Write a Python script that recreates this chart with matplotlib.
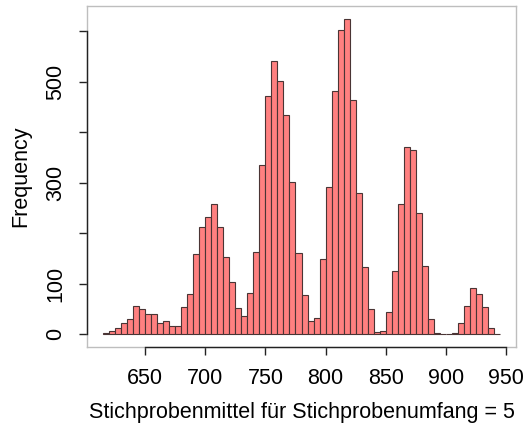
import matplotlib
matplotlib.use("Agg")
import matplotlib.pyplot as plt

plt.rcParams['font.family'] = ['Liberation Sans', 'DejaVu Sans']

# Histogram of sample means (bin width 5)
bin_starts = [615, 620, 625, 630, 635, 640, 645, 650, 655, 660, 665, 670, 675,
              680, 685, 690, 695, 700, 705, 710, 715, 720, 725, 730, 735, 740,
              745, 750, 755, 760, 765, 770, 775, 780, 785, 790, 795, 800, 805,
              810, 815, 820, 825, 830, 835, 840, 845, 850, 855, 860, 865, 870,
              875, 880, 885, 890, 895, 900, 905, 910, 915, 920, 925, 930, 935,
              940]
counts = [3, 7, 12, 22, 30, 56, 50, 40, 40, 22, 25, 17, 17,
          54, 80, 159, 212, 232, 257, 212, 153, 103, 52, 36, 81, 163,
          334, 471, 541, 502, 435, 301, 161, 77, 26, 32, 149, 291, 482,
          603, 625, 463, 280, 133, 50, 5, 6, 44, 125, 258, 371, 365,
          240, 134, 30, 3, 0, 0, 3, 22, 55, 92, 80, 54, 13,
          1]
bin_width = 5

x_ticks = [650, 700, 750, 800, 850, 900, 950]
y_ticks = [0, 100, 200, 300, 400, 500, 600]
y_tick_labels = ["0", "100", "", "300", "", "500", ""]

fig = plt.figure(figsize=(5.31, 4.37), dpi=100)
ax = fig.add_axes([87 / 531, 1 - 346.7 / 437, (516 - 87) / 531, (346.7 - 6) / 437])

ax.bar(bin_starts, counts, width=bin_width, align='edge',
       color='#FF8080', edgecolor='#4a3535', linewidth=0.8)

lo, hi = bin_starts[0], bin_starts[-1] + bin_width
pad_x = 0.04 * (hi - lo)
ymax = max(counts)
ax.set_xlim(lo - pad_x, hi + pad_x)
ax.set_ylim(-0.04 * ymax, 1.04 * ymax)

for s in ax.spines.values():
    s.set_color('#BEBEBE')
    s.set_linewidth(1.0)

# axis lines spanning the tick range
xl = ax.get_xlim()
yl = ax.get_ylim()
ax.plot([x_ticks[0], x_ticks[-1]], [yl[0], yl[0]], color='#222222', lw=1.0,
        clip_on=False, zorder=5)
ax.plot([xl[0], xl[0]], [y_ticks[0], y_ticks[-1]], color='#222222', lw=1.0,
        clip_on=False, zorder=5)

ax.set_xticks(x_ticks)
ax.set_xticklabels([str(t) for t in x_ticks])
ax.set_yticks(y_ticks)
ax.set_yticklabels(y_tick_labels, rotation=90, va='center')

ax.tick_params(axis='x', length=6, width=1.0, color='#222222', labelsize=15.5, pad=9)
ax.tick_params(axis='y', length=6, width=1.0, color='#222222', labelsize=15.5, pad=9)

ax.set_xlabel("Stichprobenmittel für Stichprobenumfang = 5", fontsize=15.5, labelpad=10)
ax.set_ylabel("Frequency", fontsize=15.5, labelpad=10)

fig.savefig("out.png", dpi=100)
